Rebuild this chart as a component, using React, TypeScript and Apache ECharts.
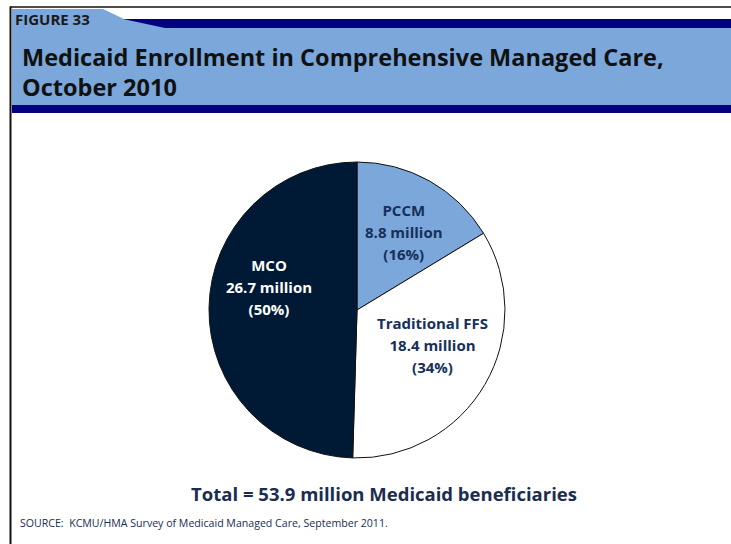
import React, { useEffect, useRef } from "react";
import * as echarts from "echarts";

const categories = ["PCCM", "Traditional FFS", "MCO"];
const valuesMillions = [8.8, 18.4, 26.7];
const sliceColors = ["#7ba7da", "#ffffff", "#001a35"];
const labelColors = ["#17305a", "#17305a", "#ffffff"];
const labelShift: [number, number][] = [
  [9, -11],
  [9, -4],
  [-11, -22],
];
const titleLines = ["Medicaid Enrollment in Comprehensive Managed Care,", "October 2010"];
const figureLabel = "FIGURE 33";
const totalText = "Total = 53.9 million Medicaid beneficiaries";
const sourceText = "SOURCE:  KCMU/HMA Survey of Medicaid Managed Care, September 2011.";

const FONT = "'Open Sans', Lato, sans-serif";

export default function App() {
  const ref = useRef<HTMLDivElement>(null);
  useEffect(() => {
    if (!ref.current) return;
    const chart = echarts.init(ref.current, undefined, { renderer: "svg" });
    const data = categories.map((name, i) => ({
      name,
      value: valuesMillions[i],
      itemStyle: { color: sliceColors[i] },
      label: { color: labelColors[i] },
    }));
    chart.setOption({
      animation: false,
      backgroundColor: "#ffffff",
      graphic: [
        {
          type: "polygon",
          shape: {
            points: [
              [12, 9],
              [103, 9],
              [124, 19],
              [731, 19],
              [731, 105],
              [12, 105],
            ],
          },
          style: { fill: "#7ba7da" },
          silent: true,
        },
        {
          type: "polygon",
          shape: {
            points: [
              [123, 19],
              [731, 19],
              [731, 28],
              [165, 28],
            ],
          },
          style: { fill: "#000080" },
          silent: true,
        },
        {
          type: "rect",
          shape: { x: 12, y: 105, width: 719, height: 8 },
          style: { fill: "#000080" },
          silent: true,
        },
        {
          type: "line",
          shape: { x1: 10, y1: 7, x2: 731, y2: 7 },
          style: { stroke: "#111", lineWidth: 1.5 },
          silent: true,
        },
        {
          type: "line",
          shape: { x1: 10.5, y1: 6.5, x2: 10.5, y2: 544 },
          style: { stroke: "#111", lineWidth: 2 },
          silent: true,
        },
        {
          type: "text",
          x: 15,
          y: 19,
          style: {
            text: figureLabel,
            font: `bold 15px ${FONT}`,
            fill: "#1a1a1a",
            verticalAlign: "middle",
          },
        },
        {
          type: "text",
          x: 22,
          y: 57,
          style: {
            text: titleLines[0],
            font: `bold 23.5px ${FONT}`,
            fill: "#111111",
            verticalAlign: "middle",
          },
        },
        {
          type: "text",
          x: 22,
          y: 87,
          style: {
            text: titleLines[1],
            font: `bold 23.5px ${FONT}`,
            fill: "#111111",
            verticalAlign: "middle",
          },
        },
        {
          type: "text",
          x: 384,
          y: 493,
          style: {
            text: totalText,
            font: `bold 18.5px ${FONT}`,
            fill: "#1a2d50",
            align: "center",
            verticalAlign: "middle",
          },
        },
        {
          type: "text",
          x: 20,
          y: 523,
          style: {
            text: sourceText,
            font: `10.6px ${FONT}`,
            fill: "#1a2d50",
            verticalAlign: "middle",
          },
        },
      ],
      series: [
        {
          type: "pie",
          center: [357, 310],
          radius: 148,
          startAngle: 90,
          clockwise: true,
          percentPrecision: 0,
          data,
          itemStyle: { borderColor: "#111111", borderWidth: 1 },
          label: {
            show: true,
            position: "inside",
            formatter: "{b}\n{c} million\n({d}%)",
            fontFamily: FONT,
            fontWeight: "bold",
            fontSize: 15,
            lineHeight: 22,
            align: "center",
          },
          labelLine: { show: false },
          labelLayout: (p: any) => {
            const s = labelShift[p.dataIndex] || [0, 0];
            return { dx: s[0], dy: s[1] };
          },
          emphasis: { disabled: true },
        },
      ],
    });
    return () => chart.dispose();
  }, []);
  return (
    <div
      ref={ref}
      style={{ position: "fixed", left: 0, top: 0, width: 731, height: 544 }}
    />
  );
}
